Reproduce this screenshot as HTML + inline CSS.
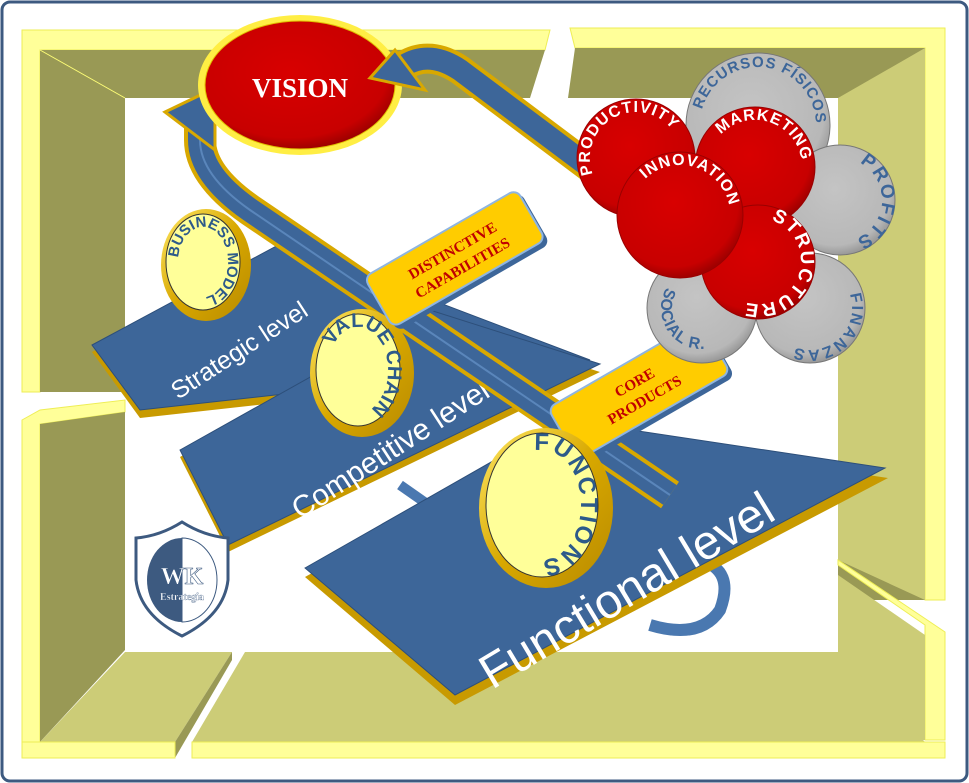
<!DOCTYPE html>
<html><head><meta charset="utf-8"><style>
html,body{margin:0;padding:0;background:#fff;}
svg{display:block;}
</style></head><body>
<svg width="969" height="783" viewBox="0 0 969 783" xmlns="http://www.w3.org/2000/svg" font-family="Liberation Sans, sans-serif">
<defs>
<radialGradient id="red" cx="45%" cy="40%" r="60%"><stop offset="0" stop-color="#d80000"/><stop offset="0.85" stop-color="#c80000"/><stop offset="1" stop-color="#a00000"/></radialGradient>
<radialGradient id="gray" cx="45%" cy="40%" r="60%"><stop offset="0" stop-color="#c4c4c4"/><stop offset="0.85" stop-color="#b8b8b8"/><stop offset="1" stop-color="#999"/></radialGradient>
<linearGradient id="gold" x1="0" y1="0" x2="1" y2="1"><stop offset="0" stop-color="#ffe866"/><stop offset="0.5" stop-color="#d8a800"/><stop offset="1" stop-color="#b88a00"/></linearGradient>
<path id="pProd" d="M636,204 A46,46 0 1 1 636,112 A46,46 0 1 1 636,204"/>
<path id="pRec" d="M758,183 A58,58 0 1 1 758,67 A58,58 0 1 1 758,183"/>
<path id="pMkt" d="M755,214 A47,47 0 1 1 755,120 A47,47 0 1 1 755,214"/>
<path id="pInn" d="M680,265 A50,50 0 1 1 680,165 A50,50 0 1 1 680,265"/>
<path id="pStr" d="M758,218 A43,43 0 1 1 758,304 A43,43 0 1 1 758,218"/>
<path id="pPro" d="M840,242 A42,42 0 1 1 840,158 A42,42 0 1 1 840,242"/>
<path id="pFin" d="M810,266 A42,42 0 1 1 810,350 A42,42 0 1 1 810,266"/>
<path id="pSoc" d="M702,267 A41,41 0 1 0 702,349 A41,41 0 1 0 702,267"/>
<path id="pBus" d="M178,262 A25,35 0 1 1 228,262 A25,35 0 1 1 178,262"/>
<path id="pVal" d="M328,370 A30,43 0 1 1 388,370 A30,43 0 1 1 328,370"/>
<path id="pFun" d="M503,505 A39,55 0 1 1 581,505 A39,55 0 1 1 503,505"/>
</defs>
<rect x="2" y="2" width="965" height="779" rx="8" fill="#fff" stroke="#3d5a80" stroke-width="3"/>

<polygon points="22,30 550,30 545,50 40,50 40,392 22,392" fill="#ffff99" stroke="#eeee55"/>
<polygon points="40,50 545,50 530,98 125,98 125,392 40,392" fill="#999955"/>
<line x1="40" y1="50" x2="125" y2="98" stroke="#ffff77" stroke-width="1"/>
<polygon points="570,28 945,28 945,600 925,600 925,48 575,48" fill="#ffff99" stroke="#eeee55"/>
<polygon points="575,48 925,48 925,600 838,600 838,98 568,98" fill="#999955"/>
<polygon points="838,98 925,48 925,600 838,560" fill="#cccc77"/>
<polygon points="838,565 925,625 925,740 945,740 945,632 838,560" fill="#ffff99" stroke="#eeee55"/>
<polygon points="838,575 925,635 925,740 838,740" fill="#cccc77"/>
<polygon points="22,420 40,410 125,400 125,412 40,424 40,742 22,742" fill="#ffff99" stroke="#eeee55"/>
<polygon points="40,424 125,412 125,650 40,742" fill="#999955"/>
<polygon points="125,652 232,652 175,742 40,742" fill="#cccc77"/>
<polygon points="232,652 175,742 175,758 232,660" fill="#999955"/>
<polygon points="22,742 175,742 175,758 22,758" fill="#ffff99" stroke="#eeee55"/>
<polygon points="245,652 838,652 925,742 192,742" fill="#cccc77"/>
<polygon points="192,742 945,742 945,758 192,758" fill="#ffff99" stroke="#eeee55"/>

<line x1="240" y1="380" x2="300" y2="420" stroke="#4a78b0" stroke-width="10"/>
<line x1="400" y1="485" x2="450" y2="520" stroke="#4a78b0" stroke-width="10"/>
<path d="M700,560 Q735,570 720,610 Q700,640 650,625" fill="none" stroke="#4a78b0" stroke-width="12"/>

<polygon points="92,352 282,250 590,368 140,418" fill="#c89a00"/>
<polygon points="92,345 282,243 590,360 140,410" fill="#3d6699" stroke="#2d4f7a"/>
<text transform="translate(178,400) rotate(-33)" font-size="25" fill="#fff">Strategic level</text>

<polygon points="180,457 430,318 600,372 228,552" fill="#c89a00"/>
<polygon points="180,450 430,310 600,364 228,545" fill="#3d6699" stroke="#2d4f7a"/>
<text transform="translate(300,520) rotate(-33)" font-size="30" fill="#fff">Competitive level</text>

<polygon points="305,577 565,430 888,478 455,705" fill="#c89a00"/>
<polygon points="305,568 565,420 885,468 455,695" fill="#3d6699" stroke="#2d4f7a"/>
<text transform="translate(492,690) rotate(-31)" font-size="48" fill="#fff">Functional level</text>

<path d="M670,495 L250,210 Q200,175 200,140 L200,125" fill="none" stroke="#d8a800" stroke-width="32" stroke-linejoin="round"/>
<path d="M670,495 L250,210 Q200,175 200,140 L200,125" fill="none" stroke="#3d6699" stroke-width="24" stroke-linejoin="round"/>
<path d="M670,495 L250,210 Q200,175 200,140 L200,125" fill="none" stroke="#5a86bb" stroke-width="2"/>
<polygon points="165,112 215,88 215,150" fill="#3d6699" stroke="#d8a800" stroke-width="3"/>

<ellipse cx="206" cy="265" rx="45" ry="56" fill="url(#gold)"/>
<ellipse cx="203" cy="262" rx="37" ry="48" fill="#ffff99" stroke="#333" stroke-width="1"/>
<text font-size="15" font-weight="bold" fill="#2d5a8a"><textPath href="#pBus" startOffset="38%" text-anchor="middle">BUSINESS MODEL</textPath></text>

<ellipse cx="362" cy="373" rx="52" ry="64" fill="url(#gold)"/>
<ellipse cx="358" cy="370" rx="42" ry="56" fill="#ffff99" stroke="#333" stroke-width="1"/>
<text font-size="20" font-weight="bold" fill="#2d5a8a"><textPath href="#pVal" startOffset="40%" text-anchor="middle">VALUE CHAIN</textPath></text>

<g transform="translate(458,260) rotate(-30)">
<rect x="-88" y="-28" width="176" height="60" rx="8" fill="#3d6699"/>
<rect x="-90" y="-32" width="176" height="58" rx="8" fill="#ffcc00" stroke="#8fb5e0" stroke-width="2"/>
<text x="0" y="-6" text-anchor="middle" font-size="15" font-weight="bold" fill="#c00000" style="font-family:'Liberation Serif',serif">DISTINCTIVE</text>
<text x="0" y="14" text-anchor="middle" font-size="15" font-weight="bold" fill="#c00000" style="font-family:'Liberation Serif',serif">CAPABILITIES</text>
</g>
<g transform="translate(640,392) rotate(-30)">
<rect x="-86" y="-28" width="176" height="62" rx="8" fill="#3d6699"/>
<rect x="-88" y="-32" width="176" height="60" rx="8" fill="#ffcc00" stroke="#8fb5e0" stroke-width="2"/>
<text x="0" y="-6" text-anchor="middle" font-size="15" font-weight="bold" fill="#c00000" style="font-family:'Liberation Serif',serif">CORE</text>
<text x="0" y="14" text-anchor="middle" font-size="15" font-weight="bold" fill="#c00000" style="font-family:'Liberation Serif',serif">PRODUCTS</text>
</g>

<ellipse cx="546" cy="508" rx="67" ry="80" fill="url(#gold)"/>
<ellipse cx="542" cy="505" rx="56" ry="72" fill="#ffff99" stroke="#333" stroke-width="1"/>
<text font-size="24" font-weight="bold" fill="#2d5a8a" letter-spacing="2"><textPath href="#pFun" startOffset="49%" text-anchor="middle">FUNCTIONS</textPath></text>

<ellipse cx="300" cy="85" rx="102" ry="70" fill="#ffee44"/>
<ellipse cx="300" cy="85" rx="95" ry="64" fill="url(#red)" stroke="#e0c000"/>
<text x="300" y="97" text-anchor="middle" font-size="27" font-weight="bold" fill="#fff" style="font-family:'Liberation Serif',serif">VISION</text>

<path d="M600,175 L460,70 Q430,50 405,65 L395,72" fill="none" stroke="#d8a800" stroke-width="30" stroke-linejoin="round"/>
<path d="M600,175 L460,70 Q430,50 405,65 L395,72" fill="none" stroke="#3d6699" stroke-width="22" stroke-linejoin="round"/>
<polygon points="370,78 395,50 425,90" fill="#3d6699" stroke="#d8a800" stroke-width="3"/>

<circle cx="758" cy="125" r="72" fill="url(#gray)" stroke="#777"/>
<text font-size="15" font-weight="bold" fill="#3d6699" letter-spacing="1"><textPath href="#pRec" startOffset="52%" text-anchor="middle">RECURSOS FÍSICOS</textPath></text>
<circle cx="840" cy="200" r="55" fill="url(#gray)" stroke="#777"/>
<text font-size="19" font-weight="bold" fill="#3d6699" letter-spacing="2"><textPath href="#pPro" startOffset="76%" text-anchor="middle">PROFITS</textPath></text>
<circle cx="810" cy="308" r="55" fill="url(#gray)" stroke="#777"/>
<text font-size="16" font-weight="bold" fill="#3d6699" letter-spacing="2"><textPath href="#pFin" startOffset="38%" text-anchor="middle">FINANZAS</textPath></text>
<circle cx="702" cy="308" r="55" fill="url(#gray)" stroke="#777"/>
<text font-size="16" font-weight="bold" fill="#3d6699" letter-spacing="1"><textPath href="#pSoc" startOffset="34%" text-anchor="middle">SOCIAL R.</textPath></text>

<circle cx="636" cy="158" r="59" fill="url(#red)" stroke="#900"/>
<text font-size="16" font-weight="bold" fill="#fff" letter-spacing="1"><textPath href="#pProd" startOffset="42%" text-anchor="middle">PRODUCTIVITY</textPath></text>
<circle cx="755" cy="167" r="60" fill="url(#red)" stroke="#900"/>
<text font-size="16" font-weight="bold" fill="#fff" letter-spacing="1"><textPath href="#pMkt" startOffset="55%" text-anchor="middle">MARKETING</textPath></text>
<circle cx="758" cy="262" r="57" fill="url(#red)" stroke="#900"/>
<text font-size="19" font-weight="bold" fill="#fff" letter-spacing="2"><textPath href="#pStr" startOffset="30%" text-anchor="middle">STRUCTURE</textPath></text>
<circle cx="680" cy="215" r="63" fill="url(#red)" stroke="#900"/>
<text font-size="16" font-weight="bold" fill="#fff" letter-spacing="1"><textPath href="#pInn" startOffset="55%" text-anchor="middle">INNOVATION</textPath></text>

<path d="M182,522 Q160,536 136,538 L136,580 Q140,615 182,636 Q224,615 228,580 L228,538 Q204,536 182,522 Z" fill="#fff" stroke="#3d5a80" stroke-width="3"/>
<ellipse cx="182" cy="580" rx="35" ry="42" fill="#3d5a80"/>
<path d="M182,538 A35,42 0 0 1 182,622 Z" fill="#fff" stroke="#3d5a80"/>
<text x="182" y="584" text-anchor="middle" font-weight="bold" font-size="24" fill="#fff" stroke="#3d5a80" stroke-width="0.6" style="font-family:'Liberation Serif',serif">WK</text>
<text x="182" y="600" text-anchor="middle" font-weight="bold" font-size="10" fill="#fff" stroke="#3d5a80" stroke-width="0.3" style="font-family:'Liberation Serif',serif">Estrategia</text>
</svg>
</body></html>
